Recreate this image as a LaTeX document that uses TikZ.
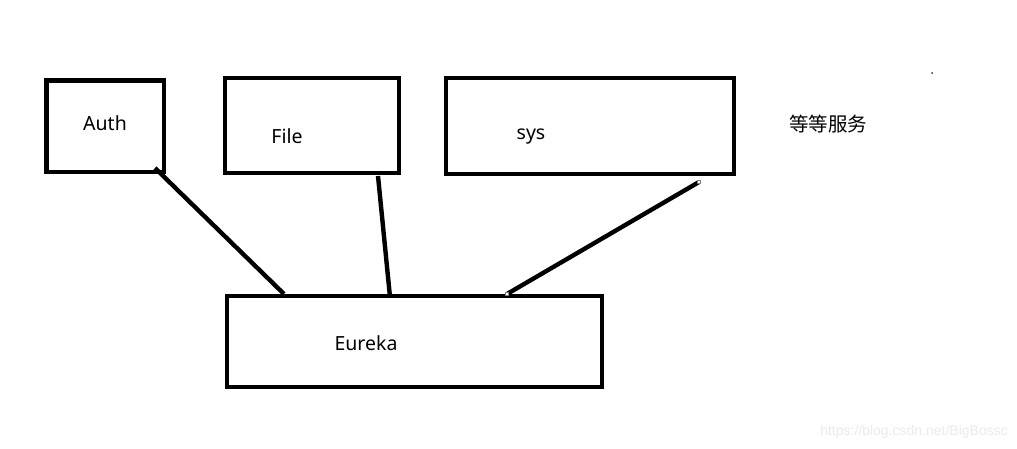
\documentclass[tikz,border=0pt]{standalone}
\usepackage{fontspec}
\setmainfont{Noto Sans}
\newfontfamily\cjk{Noto Sans CJK SC}
\newfontfamily\wmfont{Liberation Sans}
\begin{document}
\begin{tikzpicture}[x=1pt,y=-1pt,
  box/.style={draw=black,line width=4.6pt},
  link/.style={draw=black,line width=4.4pt},
  lbl/.style={anchor=base,inner sep=0pt,font=\fontsize{19.5}{22}\selectfont},
  handle/.style={draw=gray,fill=white,line width=0.6pt,minimum size=3pt,inner sep=0pt,rectangle}]
\useasboundingbox[fill=white] (0,0) rectangle (1017,448);
% boxes
\draw[box] (46.5,80.5) rectangle (164,172);
\draw[box] (225,78) rectangle (399,173);
\draw[box] (446,78) rectangle (734,174);
\draw[box] (227,296) rectangle (602,387);
% labels
\node[lbl] (auth) at (105,130) {Auth};
\node[lbl] (file) at (287,143) {File};
\node[lbl] (sys) at (531,139) {sys};
\node[lbl] (eureka) at (366,350) {Eureka};
\node[lbl,font=\cjk\fontsize{19.5}{22}\selectfont] (more) at (828,131) {等等服务};
% connector end points
\coordinate (a1) at (155,168);
\coordinate (a2) at (284,294);
\coordinate (f1) at (378,176);
\coordinate (f2) at (390,297);
\coordinate (s1) at (699,182);
\coordinate (s2) at (507,294);
\draw[link] (a1) -- (a2);
\draw[link] (f1) -- (f2);
\draw[link] (s1) -- (s2);
\node[handle] (h1) at (s1) {};
\node[handle] (h2) at (s2) {};
% stray dot
\fill[black!80] (932,73) circle (1pt);
% watermark
\node[anchor=base east,inner sep=0pt,text=black!8,font=\wmfont\fontsize{14}{16}\selectfont] (wm) at (1008,435) {https://blog.csdn.net/BigBossc};
\end{tikzpicture}
\end{document}
